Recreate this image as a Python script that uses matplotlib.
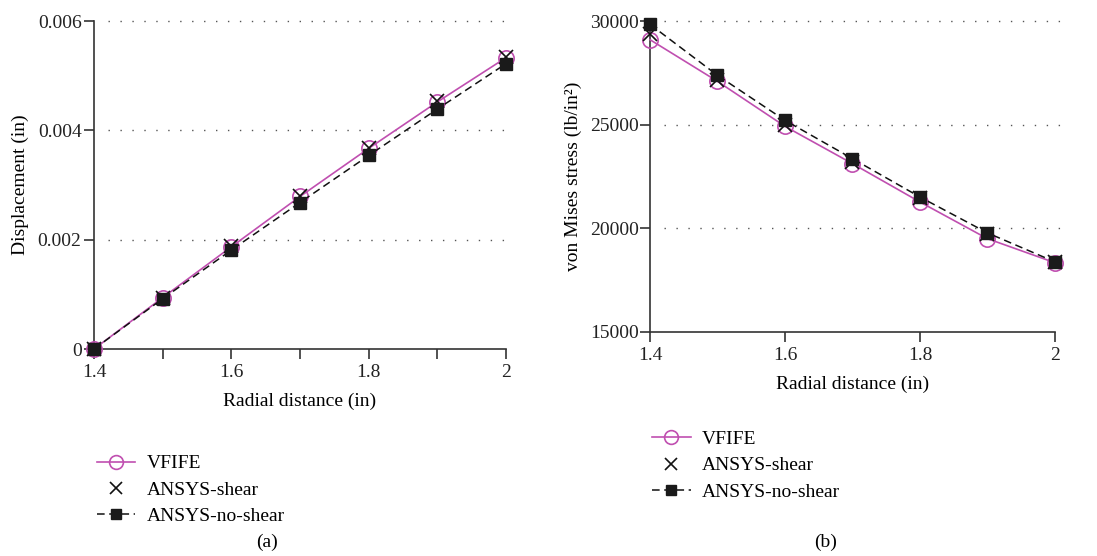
import matplotlib
matplotlib.use("Agg")
import matplotlib.pyplot as plt
from matplotlib.ticker import FixedLocator

plt.rcParams["font.family"] = ["Liberation Serif", "DejaVu Serif"]
plt.rcParams["font.size"] = 14

# radial distance (in)
radius = [1.4, 1.5, 1.6, 1.7, 1.8, 1.9, 2.0]

# (a) displacement (in)
disp_vfife = [0.0, 0.00094, 0.00187, 0.00279, 0.00367, 0.00452, 0.00533]
disp_shear = [0.0, 0.00094, 0.00188, 0.00280, 0.00368, 0.00453, 0.00535]
disp_noshear = [0.0, 0.00092, 0.00181, 0.00268, 0.00354, 0.00439, 0.00522]

# (b) von Mises stress (lb/in^2)
vm_vfife = [29100, 27090, 24920, 23120, 21270, 19500, 18340]
vm_shear = [29350, 27150, 24980, 23180, 21480, 19750, 18380]
vm_noshear = [29840, 27380, 25210, 23360, 21510, 19780, 18380]

disp_ticks = [0, 0.002, 0.004, 0.006]
disp_labels = ["0", "0.002", "0.004", "0.006"]
vm_ticks = [15000, 20000, 25000, 30000]
vm_labels = ["15000", "20000", "25000", "30000"]
x_ticks = [1.4, 1.6, 1.8, 2.0]
x_labels = ["1.4", "1.6", "1.8", "2"]

magenta = "#c04fb0"
axcol = "#333333"

fig = plt.figure(figsize=(10.97, 5.56), dpi=100)
ax1 = fig.add_axes([0.0857, 0.3723, 0.3756, 0.5899])
ax2 = fig.add_axes([0.5925, 0.4029, 0.3692, 0.5593])


def draw(ax, y1, y2, y3, yticks, ylabels, ylim, minor):
    ax.plot(radius, y1, color=magenta, lw=1.2, marker="o", ms=11,
            mfc="none", mec=magenta, mew=1.2, label="VFIFE", clip_on=False, zorder=3)
    ax.plot(radius, y2, ls="none", marker="x", ms=10, mec="#111111",
            mew=1.2, label="ANSYS-shear", clip_on=False, zorder=4)
    ax.plot(radius, y3, color="#111111", lw=1.1, ls=(0, (5, 3)), marker="s",
            ms=8.5, mfc="#1a1a1a", mec="#1a1a1a", label="ANSYS-no-shear",
            clip_on=False, zorder=5)
    ax.set_xlim(1.4, 2.0)
    ax.set_ylim(*ylim)
    ax.xaxis.set_major_locator(FixedLocator(x_ticks))
    ax.set_xticklabels(x_labels)
    if minor:
        ax.xaxis.set_minor_locator(FixedLocator([1.5, 1.7, 1.9]))
    ax.yaxis.set_major_locator(FixedLocator(yticks))
    ax.set_yticklabels(ylabels)
    for t in yticks[1:]:
        ax.axhline(t, xmin=0.034, xmax=1.02, color="#555555", lw=1.0,
                   ls=(0, (1, 7.6)), clip_on=False, zorder=1)
    for s in ["top", "right"]:
        ax.spines[s].set_visible(False)
    for s in ["left", "bottom"]:
        ax.spines[s].set_color(axcol)
        ax.spines[s].set_linewidth(1.2)
    ax.tick_params(which="both", direction="out", length=7, width=1.2,
                   color=axcol, labelcolor="#222222", pad=4)
    ax.set_xlabel("Radial distance (in)", labelpad=8)


draw(ax1, disp_vfife, disp_shear, disp_noshear, disp_ticks, disp_labels,
     (0, 0.006), True)
ax1.set_ylabel("Displacement (in)", labelpad=6)
ax1.tick_params(axis="y", pad=2)

draw(ax2, vm_vfife, vm_shear, vm_noshear, vm_ticks, vm_labels,
     (15000, 30000), False)
ax2.set_ylabel("von Mises stress (lb/in²)", labelpad=6)
ax2.tick_params(axis="y", pad=1)

h, l = ax1.get_legend_handles_labels()
fig.legend(h, l, loc="upper left", bbox_to_anchor=(0.088, 0.182),
           frameon=False, handlelength=2.0, borderaxespad=0, borderpad=0,
           labelspacing=0.45, handletextpad=0.6, markerscale=0.9)
fig.legend(h, l, loc="upper left", bbox_to_anchor=(0.594, 0.226),
           frameon=False, handlelength=2.0, borderaxespad=0, borderpad=0,
           labelspacing=0.45, handletextpad=0.6, markerscale=0.9)

fig.text(0.2434, 0.024, "(a)", ha="center", va="center")
fig.text(0.753, 0.024, "(b)", ha="center", va="center")

fig.savefig("out.png", dpi=100)
